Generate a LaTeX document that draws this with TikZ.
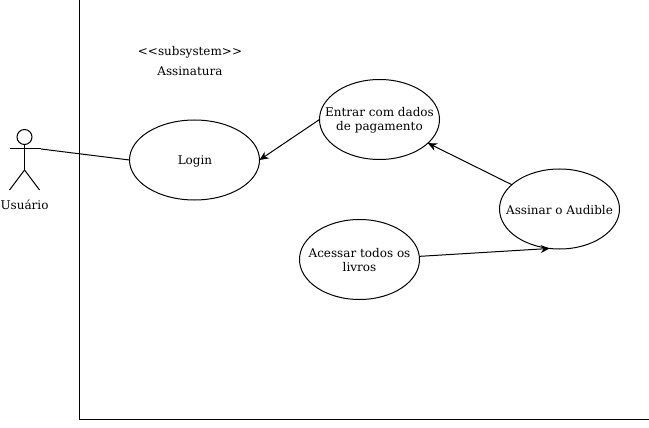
\documentclass[tikz,border=0pt]{standalone}
\usepackage{fontspec}
\setmainfont{DejaVu Serif}
\usetikzlibrary{shapes.geometric,arrows.meta}

\tikzset{
  usecase/.style={draw,ellipse,inner sep=0pt,outer sep=0pt,minimum width=120pt,minimum height=80pt},
  every label/.style={align=center,inner sep=0pt,yshift=-1pt},
  tagtext/.style={inner sep=0pt},
  every node/.append style={font=\fontsize{12}{14}\selectfont},
  tip/.style={-{Stealth[length=9pt,width=8pt]}},
}

\begin{document}
\begin{tikzpicture}[x=1pt,y=-1pt,line width=1pt]
  \useasboundingbox (0,0) rectangle (649,428);
  % frame
  \coordinate (frametop) at (79.5,0);
  \coordinate (framecorner) at (79.5,419);
  \coordinate (frameright) at (649,419);
  \draw (frametop) -- (framecorner) -- (frameright);
  \node[tagtext] (stereotype) at (190,52) {<{}<subsystem>{}>};
  \node[tagtext] (subsystem) at (190,71) {Assinatura};
  % actor
  \node[draw,circle,inner sep=0pt,outer sep=0pt,minimum size=15pt] (head) at (24.5,137) {};
  \coordinate (armleft) at (9.5,149);
  \coordinate (armright) at (41,149);
  \coordinate (hip) at (24.5,170);
  \coordinate (footleft) at (9.5,190);
  \coordinate (footright) at (39.5,190);
  \draw (head.south) -- (hip);
  \draw (armleft) -- (armright);
  \draw (footleft) -- (hip) -- (footright);
  \node[tagtext] (actor) at (24.5,205) {Usuário};
  % use cases
  \node[usecase,minimum width=130pt,label={[xshift=0.5pt]center:Login}] (login) at (194.5,160) {};
  \node[usecase,label={center:Entrar com dados\\de pagamento}] (entrar) at (379.5,119.5) {};
  \node[usecase,label={center:Assinar o Audible}] (assinar) at (559.5,209) {};
  \node[usecase,label={center:Acessar todos os\\livros}] (acessar) at (359.5,259.5) {};
  % connectors
  \draw (armright) -- (login.west);
  \draw[tip] (entrar.west) -- (login.east);
  \draw[tip] (assinar.153) -- (entrar.-26);
  \draw[tip] (acessar.3) -- (assinar.256);
\end{tikzpicture}
\end{document}
